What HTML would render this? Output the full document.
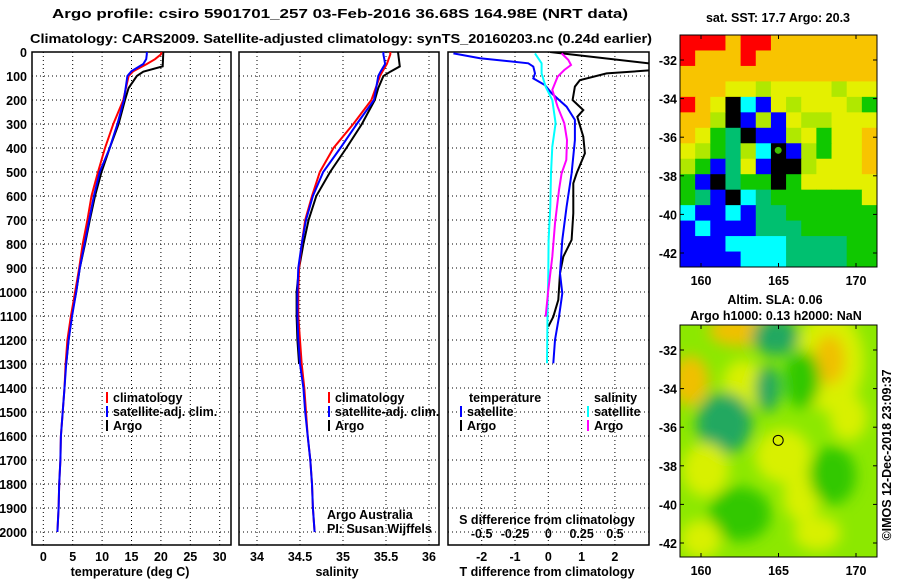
<!DOCTYPE html>
<html><head><meta charset="utf-8"><style>
html,body{margin:0;padding:0;background:#fff;}
svg{display:block;font-family:"Liberation Sans",sans-serif;}
.b{font-weight:bold;font-size:12.5px;fill:#000;}
</style></head><body>
<svg id="chart" width="900" height="580" viewBox="0 0 900 580" xmlns="http://www.w3.org/2000/svg">
<defs>
<clipPath id="c1"><rect x="32" y="52" width="199" height="493"/></clipPath>
<clipPath id="c2"><rect x="239" y="52" width="200" height="493"/></clipPath>
<clipPath id="c3"><rect x="448" y="52" width="201" height="493"/></clipPath>
<clipPath id="cm2"><rect x="680" y="325" width="197" height="232"/></clipPath>
<filter id="blur" x="-20%" y="-20%" width="140%" height="140%"><feGaussianBlur stdDeviation="7"/></filter>
</defs>
<text class="b" x="340" y="18" text-anchor="middle" textLength="576" lengthAdjust="spacingAndGlyphs" font-size="15">Argo profile: csiro 5901701_257 03-Feb-2016 36.68S 164.98E (NRT data)</text>
<text class="b" x="341" y="43" text-anchor="middle" textLength="622" lengthAdjust="spacingAndGlyphs" font-size="15">Climatology: CARS2009. Satellite-adjusted climatology: synTS_20160203.nc (0.24d earlier)</text>
<g id="g"></g>
</svg>
<script>
// ---- data ----
const depthArgo=[0,60,82,100,150,200,300,400,500,600,700,800,900,1000,1100,1200,1300];
const tempArgo=[20.4,20.3,17.0,15.9,14.5,13.9,12.8,11.3,9.9,8.8,7.9,7.1,6.2,5.6,4.8,4.3,3.9];
const salArgo=[35.64,35.66,35.55,35.47,35.41,35.37,35.22,35.04,34.85,34.69,34.60,34.54,34.49,34.46,34.46,34.47,34.49];
const depthClim=[0,10,30,50,80,100,200,300,400,500,600,700,800,900,1000,1100,1200,1300,1400,1500,1600,1700,1800,1900,2000];
const tempClim=[20.1,20.0,19.0,17.6,15.3,14.5,13.6,11.9,10.5,9.3,8.2,7.5,6.7,6.1,5.4,4.7,4.1,3.8,3.6,3.3,3.0,2.9,2.7,2.6,2.4];
const tempSat=[17.6,17.6,17.5,17.0,15.0,14.3,13.7,12.6,11.3,9.6,8.6,7.8,7.0,6.2,5.6,4.9,4.3,3.9,3.6,3.3,3.0,2.9,2.7,2.6,2.4];
const salClim=[35.55,35.55,35.53,35.51,35.46,35.43,35.33,35.12,34.89,34.73,34.64,34.56,34.52,34.49,34.48,34.48,34.50,34.52,34.55,34.57,34.59,34.62,34.64,34.65,34.67];
const salSat=[35.47,35.47,35.48,35.49,35.44,35.41,35.36,35.16,34.97,34.77,34.65,34.57,34.52,34.48,34.47,34.47,34.48,34.50,34.54,34.56,34.59,34.62,34.64,34.65,34.67];
const depthDTArgo=[0,50,75,89,117,144,200,242,270,353,422,506,547,672,783,853,922,1033,1103,1144];
const diffTArgo=[0.05,3.2,3.2,1.75,0.95,0.80,0.73,1.05,0.87,1.05,1.10,0.85,0.75,0.75,0.70,0.45,0.35,0.30,0.15,0.0];
const depthDTSat=[6,26,47,61,89,110,138,172,228,283,367,506,644,783,922,1006,1103,1200,1297];
const diffTSat=[-2.85,-2.05,-0.6,-0.45,-0.40,-0.45,-0.1,0.1,0.55,0.80,0.80,0.70,0.55,0.42,0.35,0.42,0.32,0.2,0.15];
const depthDSSat=[6,47,89,144,200,297,394,506,644,783,922,1061,1297];
const diffSSat=[-0.10,-0.05,-0.05,-0.02,0.03,0.055,0.03,0.02,0.015,0.002,0.0,-0.005,-0.01];
const depthDSArgo=[6,33,54,75,103,158,228,297,367,450,506,575,714,853,992,1103];
const diffSArgo=[0.10,0.15,0.17,0.12,0.07,0.03,0.07,0.12,0.14,0.135,0.10,0.08,0.05,0.03,0.0,-0.02];
const depthTicks=[0,100,200,300,400,500,600,700,800,900,1000,1100,1200,1300,1400,1500,1600,1700,1800,1900,2000];
const tempTicks=[0,5,10,15,20,25,30];
const salTicks=[34,34.5,35,35.5,36];
const salTickLabels=["34","34.5","35","35.5","36"];
const dTTicks=[-2,-1,0,1,2];
const dSTicks=[-0.5,-0.25,0,0.25,0.5];
const dSTickLabels=["-0.5","-0.25","0","0.25","0.5"];
const lonTicks=[160,165,170];
const latTicks=[-32,-34,-36,-38,-40,-42];
const argoLon=164.98, argoLat=-36.68;
const sstGrid=[
"RRRORROOOOOOO","ROOOROOOOOOOO","OOOOOOOOOOOOO","OOOYYLYYYYLYY",
"ROYKCBYLYYYLG","OOLKBLBYLLYYY","OYGTKBBLYGYYO","YLGTLCKBLGYYO",
"LGBTYBKKLYYYO","GBKTGGKGYYYYY","GTBKCTGGGGGGY","CBBCBTTGGGGGG",
"BCBBBTTTGGGGG","BBBCCCCTTTTGG","BBBBCCCTTTTGG"];
const slaBlobs=[
[168.3,-32.6,2.2,2.6,"Y"],[168.3,-32.5,1.0,1.3,"O"],[159.3,-33.6,1.2,1.3,"O"],[162.7,-33.8,1.3,1.3,"Y"],
[162.5,-31.0,2.0,0.8,"O"],[164.8,-31.3,1.5,1.0,"T"],[164.3,-34.0,0.8,1.2,"T"],[161.5,-35.8,1.8,1.6,"T"],
[160.3,-38.2,1.5,1.4,"Y"],[166.5,-39.6,1.2,1.3,"Y"],[165.3,-37.5,1.8,1.4,"Y"],[162.5,-40.5,2.0,1.4,"G"],
[168.5,-38.5,1.5,1.5,"G"],[169.5,-35.5,1.2,1.2,"Y"],[166.5,-33.5,1.2,1.5,"G"],[160,-41.8,1.3,1.0,"Y"],[167.5,-41.5,1.5,0.9,"Y"]];

const NS="http://www.w3.org/2000/svg";
const G=document.getElementById('g');
function mk(tag,attrs,parent){const e=document.createElementNS(NS,tag);for(const k in attrs)e.setAttribute(k,attrs[k]);(parent||G).appendChild(e);return e;}
const yD=d=>52+d*0.24;
const pTop=52,pBot=545;
function panel(x0,x1,xs,ticks,labels,clip,name){
  const grp=mk('g',{});
  
  
  depthTicks.forEach(d=>{const l=mk('line',{x1:x0,x2:x1,y1:yD(d),y2:yD(d),stroke:'#000','stroke-width':1,'stroke-dasharray':'1 3'},grp);
    });
  ticks.forEach((v,i)=>{const x=xs(v);const l=mk('line',{x1:x,x2:x,y1:pTop,y2:pBot,stroke:'#000','stroke-width':1,'stroke-dasharray':'1 3'},grp);
    
    if(labels){const t=mk('text',{x:x,y:561,'text-anchor':'middle',class:'b'},grp);t.textContent=labels[i];
    }});
  const r=mk('rect',{x:x0,y:pTop,width:x1-x0,height:pBot-pTop,fill:'none',stroke:'#000','stroke-width':1.5},grp);
  
  return grp;
}
function series(depths,vals,xs,c,clip,name){
  const pts=depths.map((d,i)=>xs(vals[i]).toFixed(1)+','+yD(d).toFixed(1)).join(' ');
  const p=mk('polyline',{points:pts,fill:'none',stroke:c,'stroke-width':2,'clip-path':'url(#'+clip+')'});
  
}
function txt(x,y,s,cls,name,extra){const t=mk('text',Object.assign({x:x,y:y,class:cls||'b'},extra||{}));t.textContent=s;
  return t;}
function legend(x,y,c,s,name){const l=mk('line',{x1:x,x2:x,y1:y-10,y2:y+1,stroke:c,'stroke-width':2});
  
  txt(x+6,y,s,'b',name);}

depthTicks.forEach(d=>{txt(27,yD(d)+5,String(d),'b','y-tick-label',{'text-anchor':'end'});});

const xT=v=>43.3+v*5.88;
panel(32,231,xT,tempTicks,tempTicks.map(String),'c1','temperature-panel');
series(depthArgo,tempArgo,xT,'#000','c1','argo-temperature-line');
series(depthClim,tempClim,xT,'#f00','c1','climatology-temperature-line');
series(depthClim,tempSat,xT,'#00f','c1','satellite-temperature-line');
legend(107,402,'#f00','climatology','legend-climatology');
legend(107,416,'#00f','satellite-adj. clim.','legend-satellite');
legend(107,430,'#000','Argo','legend-argo');
txt(130,576,'temperature (deg C)','b','x-axis-title-temperature',{'text-anchor':'middle'});

const xS=v=>257+(v-34)*86;
panel(239,439,xS,salTicks,salTickLabels,'c2','salinity-panel');
series(depthArgo,salArgo,xS,'#000','c2','argo-salinity-line');
series(depthClim,salClim,xS,'#f00','c2','climatology-salinity-line');
series(depthClim,salSat,xS,'#00f','c2','satellite-salinity-line');
legend(329,402,'#f00','climatology','legend-climatology-sal');
legend(329,416,'#00f','satellite-adj. clim.','legend-satellite-sal');
legend(329,430,'#000','Argo','legend-argo-sal');
txt(327,519,'Argo Australia','','credit-argo-australia',{'font-size':'12.5','fill':'#000'});
txt(327,533,'PI: Susan Wijffels','','credit-pi',{'font-size':'12.5','fill':'#000'});
txt(337,576,'salinity','b','x-axis-title-salinity',{'text-anchor':'middle'});

const xDT=v=>548.3+v*33.3;
const xDS=v=>548.3+v*133.3;
panel(448,649,xDT,dTTicks,dTTicks.map(String),'c3','difference-panel');
series(depthDTArgo,diffTArgo,xDT,'#000','c3','argo-temp-diff-line');
series(depthDTSat,diffTSat,xDT,'#00f','c3','satellite-temp-diff-line');
series(depthDSSat,diffSSat,xDS,'#0ff','c3','satellite-sal-diff-line');
series(depthDSArgo,diffSArgo,xDS,'#f0f','c3','argo-sal-diff-line');
txt(469,402,'temperature','b','legend-temperature-heading');
legend(461,416,'#00f','satellite','legend-t-satellite');
legend(461,430,'#000','Argo','legend-t-argo');
txt(594,402,'salinity','b','legend-salinity-heading');
legend(588,416,'#0ff','satellite','legend-s-satellite');
legend(588,430,'#f0f','Argo','legend-s-argo');
txt(547,524,'S difference from climatology','b','s-axis-title',{'text-anchor':'middle'});
dSTicks.forEach((v,i)=>txt(xDS(v),538,dSTickLabels[i],'b','s-tick-label',{'text-anchor':'middle'}));
txt(547,576,'T difference from climatology','b','x-axis-title-tdiff',{'text-anchor':'middle'});

const mx=lon=>701+(lon-160)*15.5;
function mapAxes(y0,latY,name){
  const grp=mk('g',{});
  const r=mk('rect',{x:680,y:y0,width:197,height:232,fill:'none',stroke:'#000','stroke-width':1},grp);
  
  lonTicks.forEach(l=>{const x=mx(l);mk('line',{x1:x,x2:x,y1:y0,y2:y0+4,stroke:'#000'},grp);mk('line',{x1:x,x2:x,y1:y0+232,y2:y0+228,stroke:'#000'},grp);
    txt(x,y0+250,String(l),'b','map-lon-label',{'text-anchor':'middle'});});
  latTicks.forEach(l=>{const y=latY(l);mk('line',{x1:680,x2:684,y1:y,y2:y,stroke:'#000'},grp);mk('line',{x1:877,x2:873,y1:y,y2:y,stroke:'#000'},grp);
    txt(677,y+5,String(l),'b','map-lat-label',{'text-anchor':'end'});});
}
const col={R:'#ff0000',O:'#f8c400',Y:'#e4f000',L:'#b0e800',G:'#10c800',T:'#00c070',C:'#00ffff',B:'#0000ff',K:'#000000'};
const cw=197/13,ch=232/15;
sstGrid.forEach((row,r)=>{for(let c=0;c<row.length;c++){const e=mk('rect',{x:680+c*cw,y:35+r*ch,width:cw+0.5,height:ch+0.5,fill:col[row[c]]});
  }});
const ly1=l=>60+(-32-l)*19.3;
mapAxes(35,ly1,'sst-map');
const m1=mk('circle',{cx:mx(argoLon),cy:ly1(argoLat),r:4,fill:'#40c000',stroke:'#000','stroke-width':1});

txt(778,22,'sat. SST: 17.7 Argo: 20.3','b','sst-map-title',{'text-anchor':'middle'});

const ly2=l=>350+(-32-l)*19.3;
const slaBg=mk('rect',{x:680,y:325,width:197,height:232,fill:'#8ce800'});

const bl=mk('g',{'clip-path':'url(#cm2)'});
const bg2=mk('g',{filter:'url(#blur)'},bl);
const scol={Y:'#d8f000',O:'#f0c000',T:'#20a860',G:'#30c800'};
slaBlobs.forEach(b=>{const e=mk('ellipse',{cx:mx(b[0]),cy:ly2(b[1]),rx:b[2]*15.5,ry:b[3]*19.3,fill:scol[b[4]]},bg2);
  });
mapAxes(325,ly2,'sla-map');
const m2=mk('circle',{cx:mx(argoLon),cy:ly2(argoLat),r:5,fill:'#d8f000',stroke:'#000','stroke-width':1});

txt(775,304,'Altim. SLA: 0.06','b','sla-map-title',{'text-anchor':'middle'});
txt(776,320,'Argo h1000: 0.13 h2000: NaN','b','sla-map-subtitle',{'text-anchor':'middle'});
txt(0,0,'©IMOS 12-Dec-2018 23:09:37','','imos-stamp',{'font-size':'12.5','fill':'#000','text-anchor':'middle','transform':'translate(891,455) rotate(-90)'});
</script>
</body></html>
